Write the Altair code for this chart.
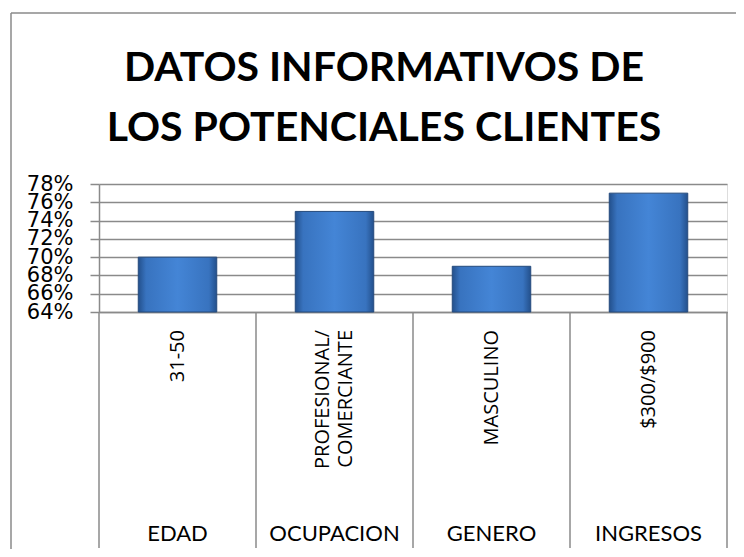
import altair as alt
import pandas as pd

grupos = ["EDAD", "OCUPACION", "GENERO", "INGRESOS"]
subs = ["31-50", "PROFESIONAL/ COMERCIANTE", "MASCULINO", "$300/$900"]
valores = [0.70, 0.75, 0.69, 0.77]
ticks_y = [0.64, 0.66, 0.68, 0.70, 0.72, 0.74, 0.76, 0.78]
titulo = ["DATOS INFORMATIVOS DE", "LOS POTENCIALES CLIENTES"]

df = pd.DataFrame({"sub": subs, "grupo": grupos, "valor": valores})
df_ult = df.tail(1)
frame_df = pd.DataFrame({"k": [0]})

GRAY = "#8a8a8a"

xscale = alt.Scale(domain=subs, paddingInner=0, paddingOuter=0)

xenc = alt.X(
    "sub:N",
    scale=xscale,
    sort=subs,
    axis=alt.Axis(
        title=None,
        ticks=False,
        labels=False,
        domainColor=GRAY,
        domainWidth=1.5,
        grid=False,
    ),
)

yenc = alt.Y(
    "valor:Q",
    scale=alt.Scale(domain=[0.64, 0.78], zero=False, nice=False),
    axis=alt.Axis(
        title=None,
        values=ticks_y,
        format=".0%",
        labelFont="DejaVu Sans",
        labelFontSize=21,
        labelColor="#000000",
        labelPadding=17,
        labelOverlap=False,
        labelFlush=False,
        tickSize=9,
        tickColor=GRAY,
        tickWidth=1.5,
        domainColor=GRAY,
        domainWidth=1.5,
        grid=True,
        gridColor=GRAY,
        gridWidth=1.5,
    ),
)

gradient = alt.Gradient(
    gradient="linear",
    x1=0, x2=1, y1=0, y2=0,
    stops=[
        alt.GradientStop(color="#23508c", offset=0),
        alt.GradientStop(color="#3873bf", offset=0.1),
        alt.GradientStop(color="#4485d6", offset=0.5),
        alt.GradientStop(color="#3873bf", offset=0.9),
        alt.GradientStop(color="#23508c", offset=1),
    ],
)

bars = alt.Chart(df).mark_bar(
    width={"band": 0.5}, fill=gradient, stroke="#244a7c", strokeWidth=1
).encode(x=xenc, y=yenc, y2=alt.datum(0.64))

xpos = alt.X("sub:N", scale=xscale, sort=subs)

dividers = alt.Chart(df).mark_rule(color=GRAY, strokeWidth=1.5).encode(
    x=alt.X("sub:N", scale=xscale, sort=subs, bandPosition=0),
    y=alt.value(128),
    y2=alt.value(364),
)

last_div = alt.Chart(df_ult).mark_rule(color=GRAY, strokeWidth=1.5).encode(
    x=alt.X("sub:N", scale=xscale, sort=subs, bandPosition=1),
    y=alt.value(128),
    y2=alt.value(364),
)

sub_style = dict(
    font="Open Sans", fontSize=20, color="#000000", angle=270,
    align="right", baseline="middle", lineHeight=23,
)

sub_single = alt.Chart(df).transform_filter(
    "indexof(datum.sub, ' ') < 0"
).mark_text(**sub_style).encode(
    x=xpos, y=alt.value(146), text="sub:N"
)

sub_multi = alt.Chart(df).transform_filter(
    "indexof(datum.sub, ' ') >= 0"
).transform_calculate(
    lineas="split(datum.sub, ' ')"
).mark_text(dy=-11.5, **sub_style).encode(
    x=xpos, y=alt.value(146), text="lineas:N"
)

group_labels = alt.Chart(df).mark_text(
    font="Lato", fontSize=22, color="#000000", baseline="alphabetic", align="center"
).encode(
    x=xpos,
    y=alt.value(357),
    text="grupo:N",
)

title_mark = alt.Chart(frame_df).mark_text(
    font="Lato", fontSize=41, fontWeight="bold", color="#000000",
    align="center", baseline="top", lineHeight=60,
).encode(
    x=alt.value(285), y=alt.value(-135), text=alt.value(titulo)
)

border_left = alt.Chart(frame_df).mark_rule(color=GRAY, strokeWidth=1.5).encode(
    x=alt.value(-88), y=alt.value(-171), y2=alt.value(370)
)
border_top = alt.Chart(frame_df).mark_rule(color=GRAY, strokeWidth=1.5).encode(
    x=alt.value(-88), x2=alt.value(640), y=alt.value(-171)
)

chart = alt.layer(
    bars, dividers, last_div, sub_single, sub_multi, group_labels,
    title_mark, border_left, border_top
).properties(
    width=628,
    height=128,
    autosize=alt.AutoSizeParams(type="none"),
    padding={"left": 91, "top": 176, "right": 9, "bottom": 237},
).configure_view(stroke=None).configure(background="white")

chart.save("out.html", embed_options={"renderer": "svg", "actions": False})
